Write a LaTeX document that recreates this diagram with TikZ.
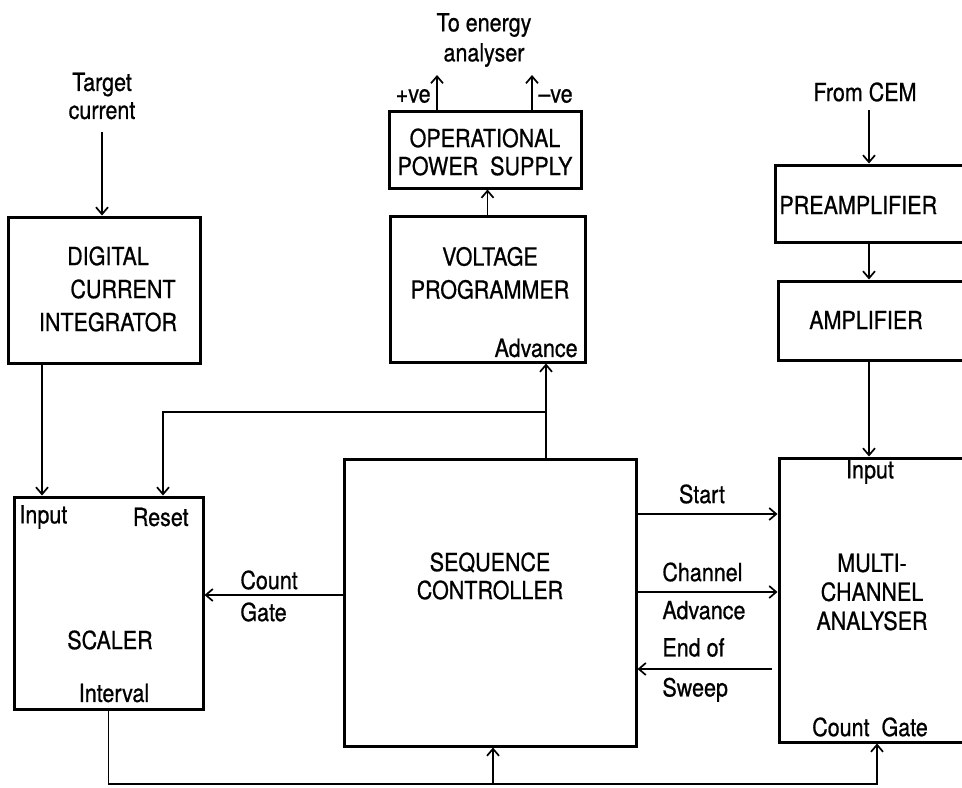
\documentclass[tikz,border=0pt]{standalone}
\usepackage{fontspec}
\setmainfont{TeX Gyre Heros}[FakeStretch=0.86, FakeBold=0.7]
\usetikzlibrary{arrows.meta, positioning, calc}

\begin{document}
\begin{tikzpicture}[
    % --- Global styles ---
    x=0.5pt, y=-0.5pt,
    >={Straight Barb[length=3.5pt,width=6pt]},
    every node/.style={font=\fontsize{12.5}{14.5}\selectfont, inner sep=1pt},
    % --- Unit boxes ---
    box/.style={draw, line width=1.5pt, inner sep=0pt},
    title/.style={align=center},
    port/.style={inner sep=1pt},
    % --- Wire styles ---
    flow/.style={->, line width=0.85pt},
    % --- Label style ---
    lbl/.style={align=left},
  ]

  \useasboundingbox (0,0) rectangle (962,787);
  \clip (0,0) rectangle (962,787);

  %% ---- Boxes ----

  % Left column
  \node[box, minimum width=96pt, minimum height=73pt] (dci) at (104,290) {};
  \node[title, font=\fontsize{12.5}{16.5}\selectfont] at (108,289)
    {DIGITAL\\\hspace{1.2em}CURRENT\\INTEGRATOR};

  \node[box, minimum width=94.5pt, minimum height=106pt] (scaler) at (108.5,603) {};
  \node[title] at (110,640) {SCALER};

  % Middle column
  \node[box, minimum width=96pt, minimum height=38.5pt] (ops) at (485,149.5) {};
  \node[title, font=\fontsize{12.5}{14}\selectfont] at (485,152)
    {OPERATIONAL\\POWER\ \ SUPPLY};

  \node[box, minimum width=97.5pt, minimum height=73pt] (vp) at (487.5,289) {};
  \node[title, font=\fontsize{12.5}{16.5}\selectfont] at (490,273)
    {VOLTAGE\\PROGRAMMER};

  \node[box, minimum width=146pt, minimum height=143.5pt] (seq) at (490,602.5) {};
  \node[title, font=\fontsize{12.5}{14}\selectfont] at (490,576)
    {SEQUENCE\\CONTROLLER};

  % Right column (runs off the page edge)
  \node[box, minimum width=100pt, minimum height=38.5pt] (pre) at (875,203.5) {};
  \node[anchor=west] at (777,205) {PREAMPLIFIER};

  \node[box, minimum width=98.5pt, minimum height=39.5pt] (amp) at (876.5,320.5) {};
  \node[title] at (866,320) {AMPLIFIER};

  \node[box, minimum width=98pt, minimum height=142pt] (mca) at (877,600) {};
  \node[title] at (872,592) {MULTI-\\CHANNEL\\ANALYSER};

  %% ---- Port labels ----

  \node[port, anchor=west] at (17,517) {Input};
  \node[port, anchor=east] at (191,517) {Reset};
  \node[port] at (114,693) {Interval};
  \node[port, anchor=east] at (580,348) {Advance};
  \node[port] at (870,472) {Input};
  \node[port] at (870,727) {Count\ \ Gate};

  %% ---- External labels ----

  \node[title, font=\fontsize{12.5}{14}\selectfont] (target) at (102,96) {Target\\current};
  \node[title, font=\fontsize{12.5}{15}\selectfont] (energy) at (484,40) {To energy\\analyser};
  \node[anchor=east] (poslbl) at (433,96) {+ve};
  \node[anchor=west] (neglbl) at (536,96) {--ve};
  \node (cem) at (865,92) {From CEM};

  %% ---- Wire points ----

  \coordinate (tcin) at (102,132);
  \coordinate (posout) at (437,75);
  \coordinate (negout) at (532,75);
  \coordinate (cemin) at (869,110);
  \coordinate (inp) at (42,430);
  \coordinate (sw) at (546,412);
  \coordinate (rst) at (163,412);
  \coordinate (cg) at (300,595);
  \coordinate (st) at (700,514);
  \coordinate (ch) at (700,592);
  \coordinate (eos) at (700,669);
  \coordinate (bus) at (493,784);

  %% ---- Wires ----

  \draw[flow] (tcin) -- (tcin |- dci.north);
  \draw[flow] (posout |- ops.north) -- (posout);
  \draw[flow] (negout |- ops.north) -- (negout);
  \draw[flow] (vp.north) -- (vp.north |- ops.south);

  \draw[flow] (cemin) -- (cemin |- pre.north);
  \draw[flow] (cemin |- pre.south) -- (cemin |- amp.north);
  \draw[flow] (cemin |- amp.south) -- (cemin |- mca.north);

  \draw[flow] (inp |- dci.south) -- (inp |- scaler.north);
  \draw[flow] (sw |- seq.north) -- (sw |- vp.south);
  \draw[flow] (sw) -- (rst) -- (rst |- scaler.north);
  \draw[flow] (cg -| seq.west) -- (cg -| scaler.east);

  \draw[flow] (st -| seq.east) -- (st -| mca.west);
  \draw[flow] (ch -| seq.east) -- (ch -| mca.west);
  \draw[flow] ($(eos -| mca.west)+(-6,0)$) -- (eos -| seq.east);

  \draw[flow] (scaler.south) -- (scaler.south |- bus) -| (mca.south);
  \draw[flow] (bus) -- (bus |- seq.south);

  %% ---- Wire labels ----

  \node[lbl, anchor=west, font=\fontsize{12.5}{16}\selectfont] at (238,596) {Count\\Gate};
  \node at (702,494) {Start};
  \node[lbl, anchor=west, font=\fontsize{12.5}{19}\selectfont] at (660,591) {Channel\\Advance};
  \node[lbl, anchor=west, font=\fontsize{12.5}{20}\selectfont] at (660,670) {End of\\Sweep};

\end{tikzpicture}
\end{document}
